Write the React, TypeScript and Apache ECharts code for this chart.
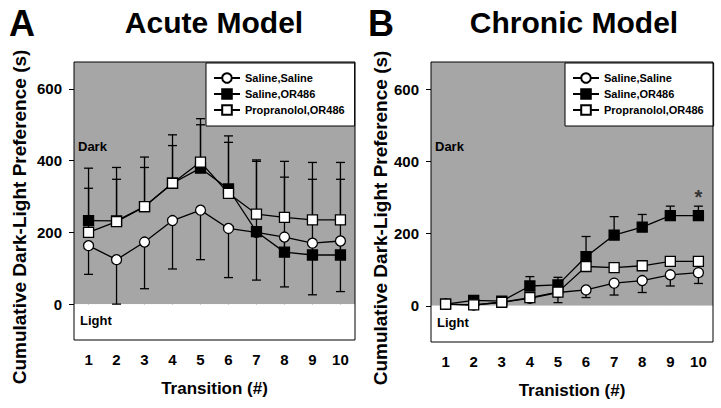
import React, { useEffect, useRef } from "react";
import * as echarts from "echarts";

// ---------- data ----------
const transitions = [1, 2, 3, 4, 5, 6, 7, 8, 9, 10];
const yTicks = [0, 200, 400, 600];
const seriesNames = ["Saline,Saline", "Saline,OR486", "Propranolol,OR486"];

// Acute model (means and SEM)
const acuteSalSal = [163, 124, 173, 233, 262, 211, 200, 187, 170, 176];
const acuteSalSalErr = [80, 124, 130, 135, 138, 137, 133, 139, 144, 141];
const acuteSalOR = [233, 232, 272, 337, 379, 321, 202, 145, 137, 137];
const acuteSalORErr = [146, 149, 138, 135, 138, 148, 200, 253, 258, 258];
const acutePropOR = [200, 230, 272, 337, 396, 309, 251, 242, 235, 235];
const acutePropORErr = [123, 118, 109, 105, 104, 142, 147, 112, 113, 113];

// Chronic model (means and SEM)
const chronicSalSal = [5, 2, 10, 21, 37, 44, 63, 70, 86, 92];
const chronicSalSalErr = [2, 3, 4, 6, 28, 21, 33, 33, 31, 30];
const chronicSalOR = [5, 15, 13, 55, 58, 136, 196, 218, 250, 250];
const chronicSalORErr = [3, 5, 6, 26, 21, 56, 51, 35, 26, 26];
const chronicPropOR = [5, 3, 10, 23, 38, 109, 106, 111, 123, 123];
const chronicPropORErr = [2, 3, 3, 5, 6, 10, 8, 9, 8, 8];

const chronicStarX = [10];
const chronicStarY = [300];

// ---------- styles ----------
const FONT = "'Liberation Sans', Arial, sans-serif";
const GRAY = "#a6a6a6";
const Y_MIN = -100;
const Y_MAX = 675;

type Style = { symbol: string; fill: string };
const styles: Style[] = [
  { symbol: "circle", fill: "#ffffff" },
  { symbol: "rect", fill: "#000000" },
  { symbol: "rect", fill: "#ffffff" },
];
// direction of error bars: circles downward, squares upward
const errDir = [-1, 1, 1];

function errorSeries(p: number, means: number[], errs: number[], dir: number, name: string) {
  return {
    type: "custom",
    name: name + " SEM",
    xAxisIndex: p,
    yAxisIndex: p,
    z: 2,
    silent: true,
    clip: true,
    encode: { x: 0, y: [1, 2] },
    data: transitions.map((x, i) => [x, means[i], means[i] + dir * errs[i]]),
    renderItem: (params: any, api: any) => {
      const x = api.value(0);
      const a = api.coord([x, api.value(1)]);
      const b = api.coord([x, api.value(2)]);
      const half = 4.5;
      const st = { stroke: "#000", lineWidth: 1.3 };
      return {
        type: "group",
        children: [
          { type: "line", shape: { x1: a[0], y1: a[1], x2: b[0], y2: b[1] }, style: st },
          { type: "line", shape: { x1: b[0] - half, y1: b[1], x2: b[0] + half, y2: b[1] }, style: st },
        ],
      };
    },
  };
}

function lineSeries(p: number, k: number, means: number[], extra: any = {}) {
  return {
    type: "line",
    name: seriesNames[k],
    xAxisIndex: p,
    yAxisIndex: p,
    z: 3,
    symbol: styles[k].symbol,
    symbolSize: 10,
    itemStyle: { color: styles[k].fill, borderColor: "#000", borderWidth: 1.3, opacity: 1 },
    lineStyle: { color: "#000", width: 1.3 },
    emphasis: { disabled: true },
    data: transitions.map((x, i) => [x, means[i]]),
    ...extra,
  };
}

function bgSeries(p: number) {
  return {
    type: "line",
    name: "bg" + p,
    xAxisIndex: p,
    yAxisIndex: p,
    z: 0,
    silent: true,
    data: [],
    markArea: {
      silent: true,
      data: [
        [
          {
            yAxis: 0,
            itemStyle: { color: GRAY },
            label: {
              show: true,
              formatter: "Dark",
              position: [4, 78],
              fontFamily: FONT,
              fontWeight: "bold",
              fontSize: 13,
              color: "#000",
            },
          },
          { yAxis: Y_MAX },
        ],
        [
          {
            yAxis: Y_MIN,
            itemStyle: { color: "#ffffff" },
            label: {
              show: true,
              formatter: "Light",
              position: [6, 10],
              fontFamily: FONT,
              fontWeight: "bold",
              fontSize: 13,
              color: "#000",
            },
          },
          { yAxis: 0 },
        ],
      ],
    },
  };
}

function xAxis(p: number, name: string) {
  return {
    type: "value",
    gridIndex: p,
    min: 0.48,
    max: 10.52,
    name,
    nameLocation: "middle",
    nameGap: 40,
    nameTextStyle: { fontFamily: FONT, fontWeight: "bold", fontSize: 17, color: "#000" },
    axisLine: { show: false },
    axisTick: { show: true, inside: false, length: 4, customValues: transitions, lineStyle: { color: "#000" } },
    axisLabel: {
      customValues: transitions,
      margin: 12,
      fontFamily: FONT,
      fontWeight: "bold",
      fontSize: 15,
      color: "#000",
    },
    splitLine: { show: false },
  };
}

function yAxis(p: number, gap: number) {
  return {
    type: "value",
    gridIndex: p,
    min: Y_MIN,
    max: Y_MAX,
    name: "Cumulative Dark-Light Preference (s)",
    nameLocation: "middle",
    nameGap: gap,
    nameTextStyle: {
      fontFamily: FONT,
      fontWeight: "bold",
      fontSize: 19,
      color: "#000",
      padding: [0, 32, 0, 0],
    },
    axisLine: { show: false },
    axisTick: { show: true, inside: false, length: 5, customValues: yTicks, lineStyle: { color: "#000" } },
    axisLabel: {
      customValues: yTicks,
      margin: 12,
      fontFamily: FONT,
      fontWeight: "bold",
      fontSize: 15,
      color: "#000",
    },
    splitLine: { show: false },
  };
}

function legend(left: number) {
  return {
    left,
    top: 63,
    orient: "vertical",
    data: seriesNames,
    backgroundColor: "#ffffff",
    borderColor: "#000",
    borderWidth: 1,
    padding: [9, 10, 10, 7],
    itemWidth: 26,
    itemHeight: 12,
    itemGap: 4,
    selectedMode: false,
    textStyle: { fontFamily: FONT, fontWeight: "bold", fontSize: 11, color: "#000", lineHeight: 12 },
  };
}

export default function App() {
  const ref = useRef<HTMLDivElement>(null);
  useEffect(() => {
    if (!ref.current) return;
    const chart = echarts.init(ref.current, null, { renderer: "svg" });
    const acute = [acuteSalSal, acuteSalOR, acutePropOR];
    const acuteErr = [acuteSalSalErr, acuteSalORErr, acutePropORErr];
    const chronic = [chronicSalSal, chronicSalOR, chronicPropOR];
    const chronicErr = [chronicSalSalErr, chronicSalORErr, chronicPropORErr];

    const series: any[] = [bgSeries(0), bgSeries(1)];
    [0, 1, 2].forEach((k) => {
      series.push(lineSeries(0, k, acute[k]));
      const extra =
        k === 1
          ? {
              markPoint: {
                silent: true,
                symbol: "circle",
                symbolSize: 0,
                data: chronicStarX.map((x, i) => ({ coord: [x, chronicStarY[i]] })),
                label: {
                  show: true,
                  position: "inside",
                  formatter: "*",
                  fontFamily: FONT,
                  fontWeight: "bold",
                  fontSize: 20,
                  color: "#333",
                },
              },
            }
          : {};
      series.push(lineSeries(1, k, chronic[k], extra));
    });
    [0, 1, 2].forEach((k) => {
      series.push(errorSeries(0, acute[k], acuteErr[k], errDir[k], seriesNames[k]));
      series.push(errorSeries(1, chronic[k], chronicErr[k], errDir[k], seriesNames[k]));
    });

    chart.setOption({
      animation: false,
      backgroundColor: "#ffffff",
      title: [
        { text: "A", left: 4, top: 0, textStyle: { fontFamily: FONT, fontWeight: "bold", fontSize: 36, color: "#000" } },
        {
          text: "Acute Model",
          left: 209,
          top: 2,
          textAlign: "center",
          textStyle: { fontFamily: FONT, fontWeight: "bold", fontSize: 30, color: "#000" },
        },
        { text: "B", left: 363, top: 0, textStyle: { fontFamily: FONT, fontWeight: "bold", fontSize: 36, color: "#000" } },
        {
          text: "Chronic Model",
          left: 569,
          top: 2,
          textAlign: "center",
          textStyle: { fontFamily: FONT, fontWeight: "bold", fontSize: 30, color: "#000" },
        },
      ],
      legend: [legend(206), legend(565)],
      grid: [
        { left: 74, top: 62, width: 281, height: 278, show: true, z: 10, backgroundColor: "transparent", borderColor: "#000", borderWidth: 1 },
        { left: 431, top: 62, width: 282, height: 280, show: true, z: 10, backgroundColor: "transparent", borderColor: "#000", borderWidth: 1 },
      ],
      xAxis: [xAxis(0, "Transition (#)"), xAxis(1, "Tranistion (#)")],
      yAxis: [yAxis(0, 45), yAxis(1, 41)],
      series,
    });
    return () => chart.dispose();
  }, []);
  return <div ref={ref} style={{ width: 721, height: 408, position: "absolute", left: 0, top: 0 }} />;
}
